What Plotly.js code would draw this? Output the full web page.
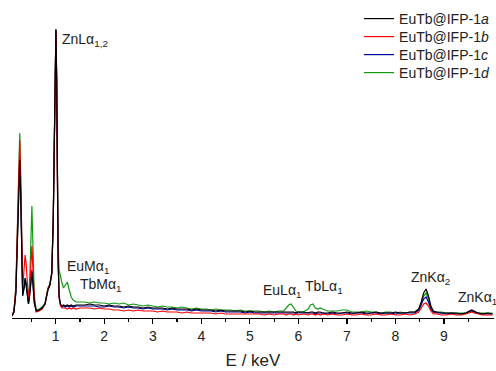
<!DOCTYPE html>
<html>
<head>
<meta charset="utf-8">
<script src="https://cdn.plot.ly/plotly-3.0.1.min.js"></script>
<style>html,body{margin:0;padding:0;background:#fff;}#chart{width:496px;height:371px;}</style>
</head>
<body>
<div id="chart"></div>
<script>
// Energy grid (keV)
const energy = [
  0.10,0.14,0.18,0.21,0.24,0.26,0.28,0.30,0.32,0.35,0.37,0.39,0.42,0.44,0.47,0.49,0.51,0.53,0.56,0.60,0.66,0.72,0.78,0.84,0.88,0.92,0.95,0.97,0.99,1.005,1.02,1.035,1.05,1.07,1.10,1.13,1.16,1.20,1.24,1.28,1.32,1.36,1.42,1.50,
  1.6,1.7,1.8,1.9,2.0,2.1,2.2,2.3,2.4,2.5,2.6,2.7,2.8,2.9,3.0,3.1,3.2,3.3,3.4,3.5,3.6,3.7,3.8,3.9,4.0,4.1,4.2,4.3,4.4,4.5,4.6,4.7,4.8,4.9,5.0,5.1,5.2,5.3,5.4,5.5,5.6,
  5.7,5.75,5.8,5.85,5.9,5.95,6.0,6.1,6.2,6.25,6.3,6.35,6.4,6.45,6.5,6.6,6.7,6.8,6.9,7.0,7.1,
  7.2,7.3,7.4,7.5,7.6,7.7,7.8,7.9,8.0,8.1,8.2,8.3,
  8.4,8.48,8.53,8.58,8.63,8.68,8.73,8.78,8.85,8.95,
  9.05,9.15,9.25,9.35,9.45,9.52,9.57,9.62,9.7,9.8,9.9,10.0
];

// EuTb@IFP-1a (black)
const countsA = [
  2,6,25,75,135,158,120,55,22,30,38,33,18,14,25,40,46,35,15,7,8,10,14,28,33,45,100,170,255,289,240,140,60,22,14,12,13,12,13,12,13,12,13,13,
  13,14,13,13,12,13,12,12,11,12,11,11,10,11,10,10,10,9,10,9,9,9,8,9,8,8,8,7,8,7,7,7,7,6,7,6,6,6,6,6,6,
  6,6,6,6,6,5,6,6,5,6,6,5,6,6,5,5,6,5,5,6,5,
  5,6,5,5,6,5,5,5,6,5,5,6,
  6,9,16,25,29,22,12,7,6,5,
  5,5,5,4,5,7,8,7,5,4,5,4
];
// EuTb@IFP-1b (red)
const countsB = [
  2,7,30,90,160,178,135,60,28,50,63,55,25,18,35,62,72,50,18,6,7,9,14,29,33,44,98,168,252,287,238,138,58,20,12,10,10,10,9,10,9,10,9,10,
  10,10,9,10,9,9,8,8,7,8,7,8,7,7,7,6,7,6,6,6,5,6,5,5,5,5,5,4,5,4,4,4,4,4,4,4,4,3,4,3,4,
  4,3,4,4,3,4,3,4,3,4,4,3,4,3,4,3,4,3,3,4,3,
  3,4,3,3,4,3,3,4,3,3,4,3,
  4,6,10,14,15,12,7,4,4,3,
  3,4,3,3,4,5,6,5,4,3,3,3
];
// EuTb@IFP-1c (blue)
const countsC = [
  2,6,26,78,138,160,122,56,23,31,40,34,19,14,27,42,48,36,15,7,8,10,14,28,33,45,99,169,254,288,239,139,59,21,13,11,12,11,12,11,12,11,12,12,
  12,12,12,11,11,12,11,11,10,11,10,10,9,10,9,9,9,8,9,8,8,8,7,8,7,7,7,6,7,6,6,6,6,5,6,5,5,5,5,5,5,
  5,5,5,5,5,5,5,5,5,5,5,4,5,5,5,4,5,4,5,5,4,
  5,5,4,5,5,4,5,5,4,5,5,5,
  5,8,13,19,21,16,9,6,5,5,
  4,5,4,4,5,6,7,6,5,4,4,4
];
// EuTb@IFP-1d (green)
const countsD = [
  2,7,32,95,165,185,140,62,24,32,40,36,20,16,45,95,112,75,22,8,9,11,15,30,34,46,100,168,252,286,240,145,75,48,40,35,30,33,36,28,21,18,16,16,
  16,15,16,15,15,14,15,14,15,13,14,13,12,13,12,11,12,11,11,10,11,10,9,10,9,9,8,9,8,8,8,7,8,7,7,7,7,6,7,6,7,
  7,10,13,14,10,7,6,6,9,13,14,10,9,10,9,7,7,7,8,8,6,
  6,6,7,6,6,5,6,6,5,6,5,6,
  6,9,14,22,25,19,10,6,6,6,
  5,5,5,5,5,6,7,6,5,5,5,5
];

const seriesNames = ['EuTb@IFP-1<i>a</i>','EuTb@IFP-1<i>b</i>','EuTb@IFP-1<i>c</i>','EuTb@IFP-1<i>d</i>'];
const seriesColors = ['#000000','#ff0000','#000099','#119911'];
const seriesData = [countsA, countsB, countsC, countsD];
const legendIds = ['legend','legend2','legend3','legend4'];
const legendY = [1.05, 0.99, 0.93, 0.87];

const tickVals = [1,2,3,4,5,6,7,8,9];
const minorVals = [0.5,1.5,2.5,3.5,4.5,5.5,6.5,7.5,8.5,9.5];

// Peak labels
const labelText = ['ZnLα<sub>1,2</sub>','EuMα<sub>1</sub>','TbMα<sub>1</sub>','EuLα<sub>1</sub>','TbLα<sub>1</sub>','ZnKα<sub>2</sub>','ZnKα<sub>1</sub>'];
const labelE = [1.08, 1.19, 1.45, 5.23, 6.09, 8.28, 9.25];
const labelC = [278, 51, 33, 27, 31, 40, 20];

const traces = [];
for (let i = 3; i >= 0; i--) {
  traces.push({
    x: energy, y: seriesData[i], type: 'scatter', mode: 'lines',
    name: seriesNames[i], legend: legendIds[i],
    line: {color: seriesColors[i], width: 1.2}
  });
}

const font = {family: 'Liberation Sans, Arial, sans-serif', color: '#222'};
const annotations = labelText.map((t, i) => ({
  text: t, x: labelE[i], y: labelC[i], xref: 'x', yref: 'y',
  xanchor: 'left', yanchor: 'middle', showarrow: false,
  font: Object.assign({size: 14}, font)
}));

const layout = {
  width: 496, height: 371,
  margin: {l: 12, r: 2, t: 18, b: 53, autoexpand: false},
  paper_bgcolor: '#fff', plot_bgcolor: '#fff',
  showlegend: true,
  xaxis: {
    range: [0.1, 10.03], showgrid: false, zeroline: false, automargin: false,
    showline: true, linecolor: '#000', linewidth: 1.2,
    ticks: 'outside', ticklen: 5, tickwidth: 1.2, tickcolor: '#000',
    tickmode: 'array', tickvals: tickVals,
    minor: {tickmode: 'array', tickvals: minorVals, ticks: 'outside', ticklen: 3, tickwidth: 1.2, tickcolor: '#000', showgrid: false},
    tickfont: Object.assign({size: 14}, font),
    title: {text: 'E / keV', font: Object.assign({size: 17}, font), standoff: 11}
  },
  yaxis: {range: [0, 300], visible: false, fixedrange: true},
  annotations: annotations
};
legendIds.forEach((id, i) => {
  layout[id] = {
    x: 0.72, y: legendY[i], xanchor: 'left', yanchor: 'top',
    itemwidth: 30, font: Object.assign({size: 14}, font), bgcolor: 'rgba(0,0,0,0)'
  };
});

Plotly.newPlot('chart', traces, layout, {displayModeBar: false, staticPlot: true});
</script>
</body>
</html>
